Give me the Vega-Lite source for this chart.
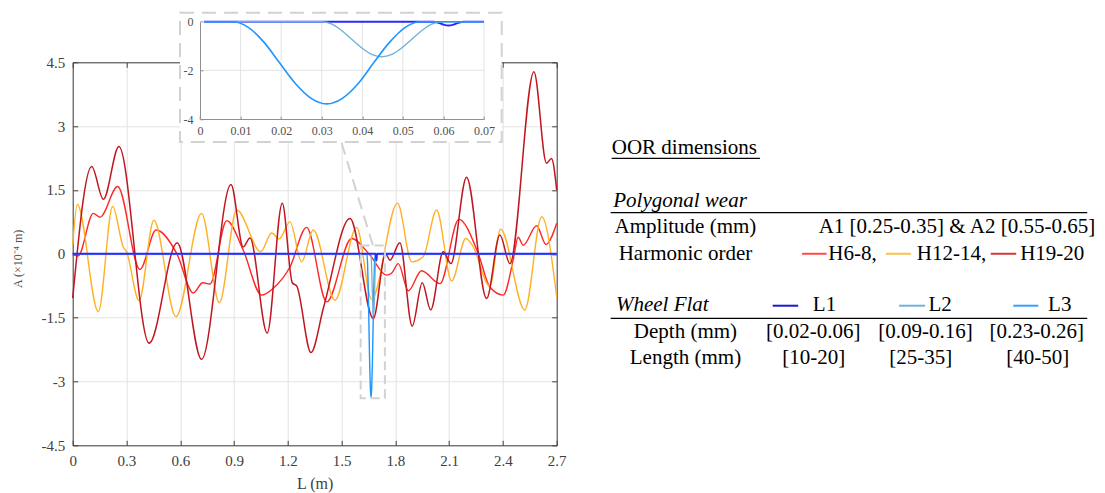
{
  "$schema": "https://vega.github.io/schema/vega-lite/v6.json",
  "width": 484,
  "height": 383,
  "autosize": "none",
  "padding": {"left": 72.7, "top": 62.3, "right": 548.3, "bottom": 47.7},
  "background": "white",
  "config": {
    "font": "Liberation Serif",
    "view": {"stroke": null},
    "axis": {"labelFont": "Liberation Serif", "titleFont": "Liberation Serif"}
  },
  "datasets": {
    "h68": [
      {"L":0,"A":-0.02},{"L":0.03,"A":-0.05},{"L":0.115,"A":0.95},{"L":0.152,"A":0.86},{"L":0.251,"A":1.58},{"L":0.375,"A":-0.37},{"L":0.465,"A":0.56},{"L":0.58,"A":0.01},{"L":0.673,"A":-0.92},{"L":0.725,"A":-0.68},{"L":0.766,"A":-0.71},{"L":0.859,"A":0.78},{"L":0.95,"A":0.10},{"L":1.054,"A":-0.97},{"L":1.119,"A":-0.81},{"L":1.212,"A":-0.31},{"L":1.305,"A":0.62},{"L":1.417,"A":-1.13},{"L":1.556,"A":0.36},{"L":1.658,"A":-0.03},{"L":1.751,"A":-0.50},{"L":1.78,"A":-0.45},{"L":1.816,"A":-0.23},{"L":1.872,"A":-0.87},{"L":1.946,"A":-0.40},{"L":2.049,"A":-0.70},{"L":2.154,"A":0.81},{"L":2.262,"A":0.01},{"L":2.327,"A":-0.78},{"L":2.402,"A":-0.97},{"L":2.457,"A":-0.15},{"L":2.485,"A":0.39},{"L":2.513,"A":0.20},{"L":2.588,"A":0.66},{"L":2.64,"A":0.22},{"L":2.70,"A":0.72}
    ],
    "h1214": [
      {"L":0,"A":0.2},{"L":0.026,"A":1.16},{"L":0.143,"A":-1.36},{"L":0.223,"A":1.11},{"L":0.282,"A":0.16},{"L":0.30,"A":0.05},{"L":0.37,"A":-1.10},{"L":0.453,"A":0.79},{"L":0.576,"A":-1.48},{"L":0.719,"A":0.95},{"L":0.818,"A":-1.15},{"L":0.915,"A":1.03},{"L":1.049,"A":0.05},{"L":1.11,"A":0.49},{"L":1.152,"A":0.35},{"L":1.212,"A":0.75},{"L":1.277,"A":-0.19},{"L":1.342,"A":0.56},{"L":1.463,"A":-1.09},{"L":1.584,"A":0.62},{"L":1.668,"A":-1.07},{"L":1.812,"A":1.19},{"L":1.891,"A":-0.19},{"L":1.955,"A":-0.07},{"L":2.03,"A":1.03},{"L":2.114,"A":-0.64},{"L":2.193,"A":0.36},{"L":2.23,"A":0.20},{"L":2.327,"A":-0.76},{"L":2.387,"A":0.58},{"L":2.522,"A":-1.32},{"L":2.616,"A":0.87},{"L":2.70,"A":-1.01}
    ],
    "h1920": [
      {"L":0,"A":-1.04},{"L":0.106,"A":2.05},{"L":0.171,"A":1.28},{"L":0.258,"A":2.52},{"L":0.426,"A":-2.10},{"L":0.583,"A":0.26},{"L":0.719,"A":-2.48},{"L":0.883,"A":1.63},{"L":0.951,"A":0.16},{"L":0.989,"A":0.37},{"L":1.085,"A":-1.86},{"L":1.169,"A":1.19},{"L":1.225,"A":-0.68},{"L":1.25,"A":-0.76},{"L":1.329,"A":-2.32},{"L":1.40,"A":-1.25},{"L":1.547,"A":0.83},{"L":1.677,"A":-1.52},{"L":1.745,"A":0.0},{"L":1.77,"A":-0.15},{"L":1.825,"A":0.26},{"L":1.894,"A":-1.70},{"L":1.95,"A":-0.68},{"L":1.997,"A":-1.32},{"L":2.067,"A":0.05},{"L":2.11,"A":-0.23},{"L":2.197,"A":1.80},{"L":2.309,"A":-1.05},{"L":2.383,"A":0.44},{"L":2.439,"A":-0.23},{"L":2.573,"A":4.28},{"L":2.643,"A":2.13},{"L":2.671,"A":2.24},{"L":2.70,"A":1.50}
    ],
    "fl3": [
      {"L":0,"A":0},{"L":1.641,"A":0},{"L":1.6449,"A":-0.23},{"L":1.6488,"A":-0.85},{"L":1.6526,"A":-1.69},{"L":1.6565,"A":-2.54},{"L":1.6604,"A":-3.15},{"L":1.6642,"A":-3.38},{"L":1.6681,"A":-3.15},{"L":1.672,"A":-2.54},{"L":1.6758,"A":-1.69},{"L":1.6797,"A":-0.85},{"L":1.6836,"A":-0.23},{"L":1.6874,"A":0},{"L":2.7,"A":0}
    ],
    "fl2": [
      {"L":0,"A":0},{"L":1.663,"A":0},{"L":1.6655,"A":-0.10},{"L":1.6679,"A":-0.36},{"L":1.6704,"A":-0.72},{"L":1.6729,"A":-1.08},{"L":1.6753,"A":-1.34},{"L":1.6778,"A":-1.44},{"L":1.6803,"A":-1.34},{"L":1.6827,"A":-1.08},{"L":1.6852,"A":-0.72},{"L":1.6877,"A":-0.36},{"L":1.6901,"A":-0.10},{"L":1.6925,"A":0},{"L":2.7,"A":0}
    ],
    "fl1": [
      {"L":0,"A":0},{"L":1.6905,"A":0},{"L":1.6918,"A":-0.04},{"L":1.693,"A":-0.12},{"L":1.6942,"A":-0.16},{"L":1.6955,"A":-0.12},{"L":1.6967,"A":-0.04},{"L":1.698,"A":0},{"L":2.7,"A":0}
    ],
    "in3": [
      {"x":0.001,"y":0},{"x":0.008,"y":0},{"x":0.0119,"y":-0.23},{"x":0.0158,"y":-0.85},{"x":0.0196,"y":-1.69},{"x":0.0235,"y":-2.54},{"x":0.0274,"y":-3.15},{"x":0.0312,"y":-3.38},{"x":0.0351,"y":-3.15},{"x":0.039,"y":-2.54},{"x":0.0428,"y":-1.69},{"x":0.0467,"y":-0.85},{"x":0.0506,"y":-0.23},{"x":0.0544,"y":0},{"x":0.07,"y":0}
    ],
    "in2": [
      {"x":0.001,"y":0},{"x":0.030,"y":0},{"x":0.0325,"y":-0.10},{"x":0.0349,"y":-0.36},{"x":0.0374,"y":-0.72},{"x":0.0399,"y":-1.08},{"x":0.0423,"y":-1.34},{"x":0.0448,"y":-1.44},{"x":0.0473,"y":-1.34},{"x":0.0497,"y":-1.08},{"x":0.0522,"y":-0.72},{"x":0.0547,"y":-0.36},{"x":0.0571,"y":-0.10},{"x":0.0595,"y":0},{"x":0.07,"y":0}
    ],
    "in1": [
      {"x":0.001,"y":0},{"x":0.0575,"y":0},{"x":0.0588,"y":-0.04},{"x":0.06,"y":-0.12},{"x":0.0612,"y":-0.16},{"x":0.0625,"y":-0.12},{"x":0.0637,"y":-0.04},{"x":0.065,"y":0},{"x":0.07,"y":0}
    ],
    "ingridv": [
      {"x":0.01,"ya":-4,"yb":0},{"x":0.02,"ya":-4,"yb":0},{"x":0.03,"ya":-4,"yb":0},{"x":0.04,"ya":-4,"yb":0},{"x":0.05,"ya":-4,"yb":0},{"x":0.06,"ya":-4,"yb":0},{"x":0.07,"ya":-4,"yb":0}
    ],
    "ingridh": [
      {"xa":0,"xb":0.07,"y":-2}
    ],
    "tleft": [
      {"tx":0.35,"ty":0,"t":"OOR dimensions"},
      {"tx":44.55,"ty":3.97,"t":"H6-8,"},
      {"tx":62.6,"ty":3.97,"t":"H12-14,"},
      {"tx":83.7,"ty":3.97,"t":"H19-20"},
      {"tx":41.4,"ty":5.92,"t":"L1"},
      {"tx":65.0,"ty":5.92,"t":"L2"},
      {"tx":89.4,"ty":5.92,"t":"L3"}
    ],
    "titalic": [
      {"tx":0.67,"ty":1.99,"t":"Polygonal wear"},
      {"tx":1.22,"ty":5.92,"t":"Wheel Flat"}
    ],
    "tcenter": [
      {"tx":15.4,"ty":2.96,"t":"Amplitude (mm)"},
      {"tx":70.8,"ty":2.96,"t":"A1 [0.25-0.35] & A2 [0.55-0.65]"},
      {"tx":15.4,"ty":3.97,"t":"Harmonic order"},
      {"tx":15.4,"ty":6.92,"t":"Depth (mm)"},
      {"tx":41.5,"ty":6.92,"t":"[0.02-0.06]"},
      {"tx":64.4,"ty":6.92,"t":"[0.09-0.16]"},
      {"tx":87.1,"ty":6.92,"t":"[0.23-0.26]"},
      {"tx":15.4,"ty":7.93,"t":"Length (mm)"},
      {"tx":41.6,"ty":7.93,"t":"[10-20]"},
      {"tx":63.4,"ty":7.93,"t":"[25-35]"},
      {"tx":87.3,"ty":7.93,"t":"[40-50]"}
    ],
    "trules": [
      {"xa":0.35,"xb":30.6,"ty":0.38},
      {"xa":0.14,"xb":97.4,"ty":2.43},
      {"xa":0.14,"xb":97.4,"ty":6.415}
    ],
    "tleg": [
      {"s":"H6-8","xa":39.2,"xb":44.2,"ty":3.98},
      {"s":"H12-14","xa":56.3,"xb":61.4,"ty":3.98},
      {"s":"H19-20","xa":77.7,"xb":82.9,"ty":3.98},
      {"s":"L1","xa":33.2,"xb":38.4,"ty":5.94},
      {"s":"L2","xa":59.0,"xb":64.3,"ty":5.94},
      {"s":"L3","xa":82.3,"xb":87.4,"ty":5.94}
    ]
  },
  "layer": [
    {
      "layer": [
        {
          "data": {"name": "h68"},
          "mark": {"type": "line", "color": "#ff2626", "strokeWidth": 1.4, "interpolate": "monotone"},
          "encoding": {
            "x": {
              "field": "L", "type": "quantitative",
              "scale": {"domain": [0, 2.7], "nice": false, "zero": false},
              "axis": {
                "values": [0, 0.3, 0.6, 0.9, 1.2, 1.5, 1.8, 2.1, 2.4, 2.7],
                "labelExpr": "format(datum.value, '~g')",
                "title": "L (m)", "titleFontSize": 16, "titleFontWeight": "normal", "titleColor": "#404040",
                "titleY": 38, "titleBaseline": "middle",
                "labelFontSize": 15, "labelColor": "#404040", "labelPadding": 13,
                "tickSize": -5, "tickColor": "#404040", "domainColor": "#404040",
                "grid": true, "gridColor": "#e3e3e3", "labelFlush": false
              }
            },
            "y": {
              "field": "A", "type": "quantitative",
              "scale": {"domain": [-4.5, 4.5], "nice": false, "zero": false},
              "axis": {
                "values": [-4.5, -3, -1.5, 0, 1.5, 3, 4.5],
                "labelExpr": "(datum.value < 0 ? '-' : '') + format(abs(datum.value), '~g')",
                "title": "A (×10⁻⁴ m)", "titleFontSize": 12, "titleFontWeight": "normal", "titleColor": "#505050",
                "titleX": -55, "titleY": 196, "titleBaseline": "middle", "titleAlign": "center",
                "labelFontSize": 15, "labelColor": "#404040", "labelPadding": 13,
                "tickSize": -5, "tickColor": "#404040", "domainColor": "#404040",
                "grid": true, "gridColor": "#e3e3e3", "labelFlush": false
              }
            }
          }
        },
        {
          "data": {"name": "h1214"},
          "mark": {"type": "line", "color": "#ffb125", "strokeWidth": 1.4, "interpolate": "monotone"},
          "encoding": {"x": {"field": "L", "type": "quantitative"}, "y": {"field": "A", "type": "quantitative"}}
        },
        {
          "data": {"name": "h1920"},
          "mark": {"type": "line", "color": "#c0161f", "strokeWidth": 1.5, "interpolate": "monotone"},
          "encoding": {"x": {"field": "L", "type": "quantitative"}, "y": {"field": "A", "type": "quantitative"}}
        },
        {
          "data": {"name": "fl3"},
          "mark": {"type": "line", "color": "#1e96ff", "strokeWidth": 1.4, "interpolate": "monotone"},
          "encoding": {"x": {"field": "L", "type": "quantitative"}, "y": {"field": "A", "type": "quantitative"}}
        },
        {
          "data": {"name": "fl2"},
          "mark": {"type": "line", "color": "#72b2d8", "strokeWidth": 1.3, "interpolate": "monotone"},
          "encoding": {"x": {"field": "L", "type": "quantitative"}, "y": {"field": "A", "type": "quantitative"}}
        },
        {
          "data": {"name": "fl1"},
          "mark": {"type": "line", "color": "#2a2aff", "strokeWidth": 2, "interpolate": "monotone"},
          "encoding": {"x": {"field": "L", "type": "quantitative"}, "y": {"field": "A", "type": "quantitative"}}
        },
        {
          "data": {"values": [{"xa": 1.6063, "xb": 1.7415, "ya": 0.193, "yb": -3.395}]},
          "mark": {"type": "rect", "fillOpacity": 0, "stroke": "#d2d2d2", "strokeWidth": 2, "strokeDash": [9, 5]},
          "encoding": {
            "x": {"field": "xa", "type": "quantitative"}, "x2": {"field": "xb"},
            "y": {"field": "ya", "type": "quantitative"}, "y2": {"field": "yb"}
          }
        },
        {
          "data": {"values": [{"xa": 1.5, "xb": 1.675, "ya": 2.605, "yb": 0.193}]},
          "mark": {"type": "rule", "stroke": "#d2d2d2", "strokeWidth": 2, "strokeDash": [12, 7]},
          "encoding": {
            "x": {"field": "xa", "type": "quantitative"}, "x2": {"field": "xb"},
            "y": {"field": "ya", "type": "quantitative"}, "y2": {"field": "yb"}
          }
        }
      ]
    },
    {
      "data": {"values": [{"L": 0, "A": 0}]},
      "mark": {"type": "point", "opacity": 0},
      "encoding": {
        "x": {
          "field": "L", "type": "quantitative",
          "scale": {"domain": [0, 2.7], "nice": false, "zero": false},
          "axis": {"orient": "top", "values": [0, 0.3, 0.6, 0.9, 1.2, 1.5, 1.8, 2.1, 2.4, 2.7], "labels": false, "title": null, "grid": false, "tickSize": -5, "tickColor": "#404040", "domainColor": "#404040"}
        },
        "y": {
          "field": "A", "type": "quantitative",
          "scale": {"domain": [-4.5, 4.5], "nice": false, "zero": false},
          "axis": {"orient": "right", "values": [-4.5, -3, -1.5, 0, 1.5, 3, 4.5], "labels": false, "title": null, "grid": false, "tickSize": -5, "tickColor": "#404040", "domainColor": "#404040"}
        }
      }
    },
    {
      "layer": [
        {
          "data": {"values": [{"xa": -0.00493, "xb": 0.07436, "ya": 0.37, "yb": -4.95}]},
          "mark": {"type": "rect", "fill": "white", "stroke": "#d2d2d2", "strokeWidth": 2, "strokeDash": [14, 8]},
          "encoding": {
            "x": {
              "field": "xa", "type": "quantitative",
              "scale": {"domain": [0, 0.07], "range": [127.3, 411.3], "nice": false, "zero": false},
              "axis": {
                "orient": "bottom", "offset": -326.3, "zindex": 1,
                "values": [0, 0.01, 0.02, 0.03, 0.04, 0.05, 0.06, 0.07],
                "labelExpr": "format(datum.value, '~g')",
                "title": null, "grid": false,
                "labelFontSize": 12, "labelColor": "#505050", "labelPadding": 9,
                "tickSize": -3, "tickColor": "#909090", "domainColor": "#909090", "labelFlush": false
              }
            },
            "x2": {"field": "xb"},
            "y": {
              "field": "ya", "type": "quantitative",
              "scale": {"domain": [-4, 0], "range": [56.7, -40.6], "nice": false, "zero": false},
              "axis": {
                "orient": "left", "offset": -127.3, "zindex": 1,
                "values": [-4, -2, 0],
                "labelExpr": "(datum.value < 0 ? '-' : '') + format(abs(datum.value), '~g')",
                "title": null, "grid": false,
                "labelFontSize": 12, "labelColor": "#505050", "labelPadding": 10,
                "tickSize": -3, "tickColor": "#909090", "domainColor": "#909090", "labelFlush": false
              }
            },
            "y2": {"field": "yb"}
          }
        },
        {
          "data": {"name": "ingridv"},
          "mark": {"type": "rule", "stroke": "#e3e3e3", "strokeWidth": 1},
          "encoding": {
            "x": {"field": "x", "type": "quantitative"},
            "y": {"field": "ya", "type": "quantitative"}, "y2": {"field": "yb"}
          }
        },
        {
          "data": {"name": "ingridh"},
          "mark": {"type": "rule", "stroke": "#e3e3e3", "strokeWidth": 1},
          "encoding": {
            "x": {"field": "xa", "type": "quantitative"}, "x2": {"field": "xb"},
            "y": {"field": "y", "type": "quantitative"}
          }
        },
        {
          "data": {"name": "in1"},
          "mark": {"type": "line", "color": "#2a2aff", "strokeWidth": 2, "interpolate": "monotone"},
          "encoding": {"x": {"field": "x", "type": "quantitative"}, "y": {"field": "y", "type": "quantitative"}}
        },
        {
          "data": {"name": "in2"},
          "mark": {"type": "line", "color": "#72b2d8", "strokeWidth": 1.4, "interpolate": "monotone"},
          "encoding": {"x": {"field": "x", "type": "quantitative"}, "y": {"field": "y", "type": "quantitative"}}
        },
        {
          "data": {"name": "in3"},
          "mark": {"type": "line", "color": "#1e96ff", "strokeWidth": 1.6, "interpolate": "monotone"},
          "encoding": {"x": {"field": "x", "type": "quantitative"}, "y": {"field": "y", "type": "quantitative"}}
        }
      ]
    },
    {
      "layer": [
        {
          "data": {"name": "tleft"},
          "mark": {"type": "text", "align": "left", "baseline": "middle", "fontSize": 21, "color": "black", "font": "Liberation Serif"},
          "encoding": {
            "x": {"field": "tx", "type": "quantitative", "scale": {"domain": [0, 100], "range": [537.3, 1027.3]}, "axis": null},
            "y": {"field": "ty", "type": "quantitative", "scale": {"domain": [0, 10], "range": [86, 351]}, "axis": null},
            "text": {"field": "t"}
          }
        },
        {
          "data": {"name": "titalic"},
          "mark": {"type": "text", "align": "left", "baseline": "middle", "fontSize": 21, "fontStyle": "italic", "color": "black", "font": "Liberation Serif"},
          "encoding": {
            "x": {"field": "tx", "type": "quantitative"},
            "y": {"field": "ty", "type": "quantitative"},
            "text": {"field": "t"}
          }
        },
        {
          "data": {"name": "tcenter"},
          "mark": {"type": "text", "align": "center", "baseline": "middle", "fontSize": 21, "color": "black", "font": "Liberation Serif"},
          "encoding": {
            "x": {"field": "tx", "type": "quantitative"},
            "y": {"field": "ty", "type": "quantitative"},
            "text": {"field": "t"}
          }
        },
        {
          "data": {"name": "trules"},
          "mark": {"type": "rule", "stroke": "black", "strokeWidth": 1.3},
          "encoding": {
            "x": {"field": "xa", "type": "quantitative"}, "x2": {"field": "xb"},
            "y": {"field": "ty", "type": "quantitative"}
          }
        },
        {
          "data": {"name": "tleg"},
          "mark": {"type": "rule", "strokeWidth": 2},
          "encoding": {
            "x": {"field": "xa", "type": "quantitative"}, "x2": {"field": "xb"},
            "y": {"field": "ty", "type": "quantitative"},
            "color": {
              "field": "s", "type": "nominal", "legend": null,
              "scale": {"domain": ["H6-8", "H12-14", "H19-20", "L1", "L2", "L3"], "range": ["#ff4a4a", "#ffbf4a", "#d23a3a", "#1a1ad0", "#72b2d8", "#3aa0ff"]}
            }
          }
        }
      ]
    }
  ],
  "resolve": {
    "scale": {"x": "independent", "y": "independent"},
    "axis": {"x": "independent", "y": "independent"}
  }
}
